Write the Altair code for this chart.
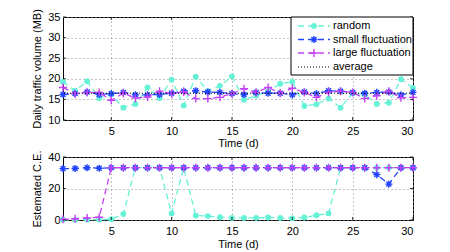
import altair as alt
import pandas as pd

days = list(range(1, 31))

# Daily traffic volume (MB)
traffic_random = [19.3, 17.1, 19.4, 15.3, 16.2, 13.0, 13.9, 17.9, 15.3, 19.8,
                  13.5, 20.5, 17.0, 18.3, 20.6, 14.9, 15.9, 17.0, 18.8, 19.3,
                  13.4, 13.8, 15.2, 13.0, 16.5, 16.1, 13.9, 14.2, 19.9, 17.8]
traffic_small = [16.2, 16.4, 16.8, 16.2, 16.4, 16.7, 16.1, 16.1, 16.2, 16.5,
                 17.0, 17.1, 16.8, 16.7, 16.4, 16.2, 16.7, 16.5, 16.5, 16.1,
                 16.8, 16.4, 17.1, 17.0, 16.7, 16.5, 16.7, 16.8, 16.1, 16.7]
traffic_large = [17.9, 16.4, 16.7, 16.7, 14.8, 16.5, 15.3, 15.6, 17.0, 16.4,
                 16.8, 15.2, 15.2, 15.5, 16.4, 17.6, 16.7, 17.9, 16.5, 17.7,
                 16.7, 15.5, 16.7, 17.0, 16.7, 15.2, 15.9, 17.0, 15.4, 15.5]
traffic_average = [16.5]

# Estimated C.E.
ce_random = [0.2, 0.1, 0.2, 0.2, 0.5, 3.8, 33.2, 33.2, 33.2, 4.2,
             33.2, 2.8, 2.5, 1.8, 1.3, 1.3, 1.4, 1.6, 1.3, 1.0,
             1.6, 3.0, 4.2, 33.2, 33.2, 33.2, 33.2, 33.2, 33.2, 33.2]
ce_small = [32.6, 32.7, 33.2, 32.9, 33.2, 33.2, 33.2, 33.2, 33.2, 33.2,
            33.2, 33.2, 33.2, 33.2, 33.2, 33.2, 33.2, 33.2, 33.2, 33.2,
            33.2, 33.2, 33.2, 33.2, 33.2, 33.2, 28.8, 22.8, 33.2, 33.2]
ce_large = [0.4, 0.8, 1.3, 1.7, 33.2, 33.2, 33.2, 33.2, 33.2, 33.2,
            33.2, 33.2, 33.2, 33.2, 33.2, 33.2, 33.2, 33.2, 33.2, 33.2,
            33.2, 33.2, 33.2, 33.2, 33.2, 33.2, 33.2, 33.2, 33.2, 33.2]

series_names = ["random", "small fluctuation", "large fluctuation"]
average_name = "average"
colors = ["#66F2D6", "#2244FF", "#C340F5"]

x_ticks = [5, 10, 15, 20, 25, 30]
top_ticks = [10, 15, 20, 25, 30, 35]
bottom_ticks = [0, 20, 40]

ASTERISK = "M-1,0L1,0M0,-1L0,1M-0.7,-0.7L0.7,0.7M-0.7,0.7L0.7,-0.7"
PLUS = "M-1,0L1,0M0,-1L0,1"
marker_styles = [("circle", True, 34), (ASTERISK, False, 50), (PLUS, False, 64)]

W = 350
TOP_H = 103
BOT_H = 63
FONT = "Liberation Sans"

xscale = alt.Scale(domain=[1, 30], nice=False, zero=False)


def make_panel(series_values, ydom, yticks, ytitle, height, xtitle_pad, extra=None, avg=None):
    yscale = alt.Scale(domain=ydom, nice=False, zero=False)
    xaxis = alt.Axis(values=x_ticks, title="Time (d)", grid=True, ticks=False, labelOverlap=False,
                     domain=False, labelPadding=5, titlePadding=xtitle_pad)
    yaxis = alt.Axis(values=yticks, title=ytitle, grid=True, ticks=False, labelOverlap=False,
                     domain=False, labelPadding=3, titlePadding=5)
    layers = []
    for name, vals, color, (shape, filled, size) in zip(series_names, series_values, colors, marker_styles):
        df = pd.DataFrame({"day": days, "value": vals, "series": name})
        base = alt.Chart(df).encode(
            x=alt.X("day:Q", scale=xscale, axis=xaxis),
            y=alt.Y("value:Q", scale=yscale, axis=yaxis),
        )
        layers.append(base.mark_line(color=color, strokeDash=[6, 4], strokeWidth=1.3))
        layers.append(base.mark_point(shape=shape, filled=filled, color=color, size=size,
                                      strokeWidth=1.4, opacity=1))
    if avg is not None:
        layers.append(
            alt.Chart(pd.DataFrame({"avg": avg})).mark_rule(
                color="black", strokeDash=[1, 2], strokeWidth=1
            ).encode(y=alt.Y("avg:Q", scale=yscale, axis=yaxis))
        )
    # inward ticks
    xt = alt.Chart(pd.DataFrame({"t": x_ticks})).encode(x=alt.X("t:Q", scale=xscale, axis=xaxis))
    layers.append(xt.mark_rule(color="black", strokeWidth=0.8).encode(y=alt.value(0), y2=alt.value(3)))
    layers.append(xt.mark_rule(color="black", strokeWidth=0.8).encode(y=alt.value(height), y2=alt.value(height - 3)))
    yt = alt.Chart(pd.DataFrame({"t": yticks})).encode(y=alt.Y("t:Q", scale=yscale, axis=yaxis))
    layers.append(yt.mark_rule(color="black", strokeWidth=0.8).encode(x=alt.value(0), x2=alt.value(3)))
    layers.append(yt.mark_rule(color="black", strokeWidth=0.8).encode(x=alt.value(W), x2=alt.value(W - 3)))
    if extra:
        layers.extend(extra)
    return alt.layer(*layers).properties(width=W, height=height)


# manual legend (MATLAB style)
one = pd.DataFrame({"k": [0]})
box_l, box_r, box_t, box_b = W - 122, W, 0, 58
rows = [9, 22.5, 36, 50]
seg0, seg1, mx, tx = box_l + 7, box_l + 39, box_l + 23, box_l + 42
legend_layers = [
    alt.Chart(one).mark_rect(fill="white", stroke="black", strokeWidth=1).encode(
        x=alt.value(box_l), x2=alt.value(box_r), y=alt.value(box_t), y2=alt.value(box_b))
]
for name, color, (shape, filled, size), ry in zip(series_names, colors, marker_styles, rows):
    legend_layers.append(alt.Chart(one).mark_rule(color=color, strokeDash=[6, 4], strokeWidth=1.3).encode(
        x=alt.value(seg0), x2=alt.value(seg1), y=alt.value(ry)))
    legend_layers.append(alt.Chart(one).mark_point(shape=shape, filled=filled, color=color, size=size,
                                                   strokeWidth=1.4, opacity=1).encode(
        x=alt.value(mx), y=alt.value(ry)))
    legend_layers.append(alt.Chart(one).mark_text(align="left", baseline="middle", fontSize=11,
                                                  font=FONT, color="black").encode(
        x=alt.value(tx), y=alt.value(ry), text=alt.value(name)))
legend_layers.append(alt.Chart(one).mark_rule(color="black", strokeDash=[1, 2], strokeWidth=1).encode(
    x=alt.value(seg0), x2=alt.value(seg1), y=alt.value(rows[3])))
legend_layers.append(alt.Chart(one).mark_text(align="left", baseline="middle", fontSize=11,
                                              font=FONT, color="black").encode(
    x=alt.value(tx), y=alt.value(rows[3]), text=alt.value(average_name)))

top = make_panel([traffic_random, traffic_small, traffic_large], [10, 35], top_ticks,
                 "Daily traffic volume (MB)", TOP_H, 1, extra=legend_layers, avg=traffic_average)
bottom = make_panel([ce_random, ce_small, ce_large], [0, 40], bottom_ticks,
                    "Estemated C.E.", BOT_H, 2)

chart = alt.vconcat(top, bottom, spacing=0).properties(
    padding={"left": 23, "top": 0, "right": 5, "bottom": 0}
).configure(font=FONT).configure_view(
    stroke="black", strokeWidth=1
).configure_axis(
    labelFontSize=11, titleFontSize=11, titleFontWeight="normal", labelColor="black",
    titleColor="black", gridColor="#888888", gridDash=[1, 3], gridWidth=1, labelFont=FONT, titleFont=FONT
)

chart.save("out.html", embed_options={"renderer": "svg", "actions": False})
